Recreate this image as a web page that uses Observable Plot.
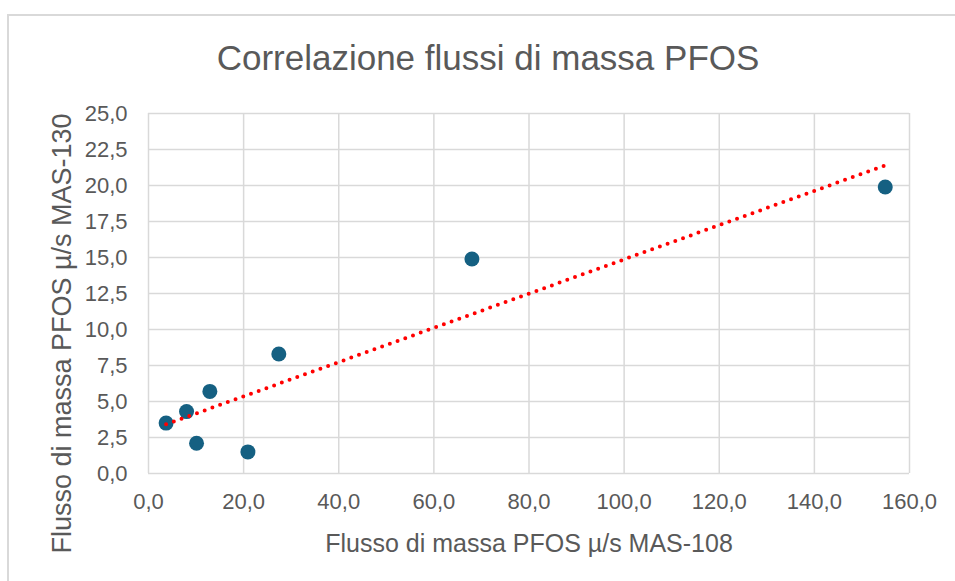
<!DOCTYPE html>
<html>
<head>
<meta charset="utf-8">
<script src="https://cdn.jsdelivr.net/npm/d3@7"></script>
<script src="https://cdn.jsdelivr.net/npm/@observablehq/plot@0.6"></script>
<style>
  html, body { margin: 0; padding: 0; background: #fff; }
  #wrap { position: relative; width: 955px; height: 581px; overflow: hidden; font-family: "Liberation Sans", Arial, sans-serif; }
  #frame { position: absolute; left: 7px; top: 14px; width: 1000px; height: 700px; border-top: 2px solid #d9d9d9; border-left: 2px solid #d9d9d9; box-sizing: border-box; }
  #title { position: absolute; left: 0; width: 976px; top: 40px; text-align: center; font-size: 35px; color: #595959; line-height: 1; }
  #chart { position: absolute; left: 0; top: 0; }
</style>
</head>
<body>
<div id="wrap">
  <div id="frame"></div>
  <div id="chart"></div>
  <div id="title">Correlazione flussi di massa PFOS</div>
</div>
<script>
const titleText = "Correlazione flussi di massa PFOS";
const xLabel = "Flusso di massa PFOS µ/s MAS-108";
const yLabel = "Flusso di massa PFOS µ/s MAS-130";
const xValues = [3.7, 8.0, 10.1, 12.9, 20.9, 27.4, 68.0, 154.9];
const yValues = [3.5, 4.3, 2.1, 5.7, 1.5, 8.3, 14.9, 19.9];
const xTicks = [0, 20, 40, 60, 80, 100, 120, 140, 160];
const yTicks = [0, 2.5, 5, 7.5, 10, 12.5, 15, 17.5, 20, 22.5, 25];

const data = xValues.map((x, i) => ({x, y: yValues[i]}));
const fmt = d => d.toFixed(1).replace(".", ",");

const chart = Plot.plot({
  width: 955,
  height: 581,
  marginLeft: 148,
  marginRight: 46,
  marginTop: 113,
  marginBottom: 108,
  style: {fontFamily: "'Liberation Sans', Arial, sans-serif", fontSize: "22px", color: "#595959", background: "transparent"},
  x: {domain: [0, 160]},
  y: {domain: [0, 25]},
  marks: [
    Plot.gridX(xTicks, {stroke: "#d9d9d9", strokeOpacity: 1, strokeWidth: 1.5}),
    Plot.gridY(yTicks, {stroke: "#d9d9d9", strokeOpacity: 1, strokeWidth: 1.5}),
    Plot.axisX(xTicks, {tickSize: 0, tickPadding: 20, tickFormat: fmt, label: null, fill: "#595959"}),
    Plot.axisY(yTicks, {tickSize: 0, tickPadding: 21, tickFormat: fmt, label: null, fill: "#595959"}),
    Plot.dot(data, {x: "x", y: "y", r: 7.5, fill: "#156082"}),
    Plot.linearRegressionY(data, {x: "x", y: "y", ci: 0, stroke: "#ff0000", strokeWidth: 4, strokeDasharray: "0 8.2", strokeLinecap: "round"}),
    Plot.text([xLabel], {frameAnchor: "bottom", dy: 70, text: d => d, fontSize: 25, fill: "#595959", lineAnchor: "middle"}),
    Plot.text([yLabel], {frameAnchor: "left", dx: -86, dy: 40, rotate: -90, text: d => d, fontSize: 27, fill: "#595959", lineAnchor: "middle", textAnchor: "middle"})
  ]
});
document.getElementById("chart").appendChild(chart);
</script>
</body>
</html>
